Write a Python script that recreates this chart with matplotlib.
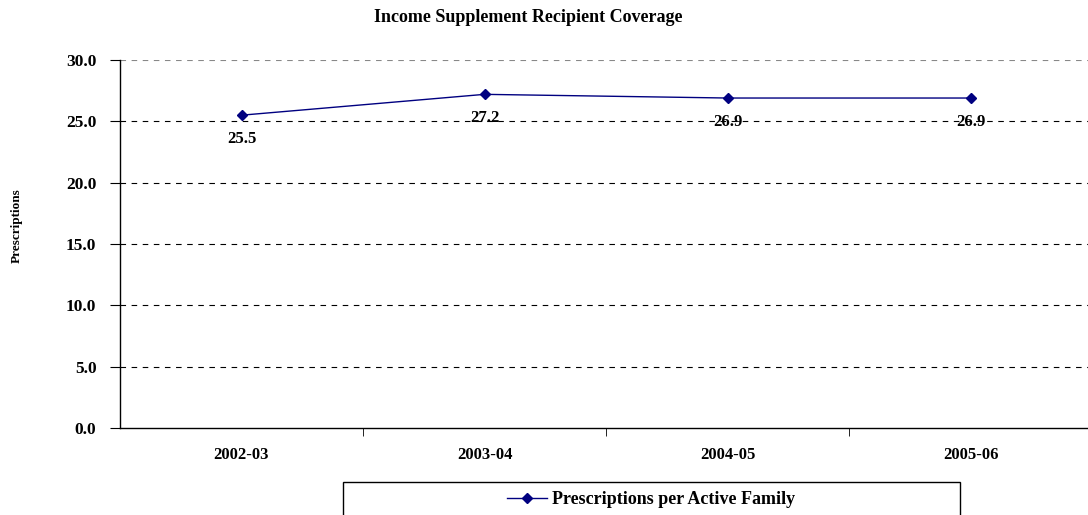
import matplotlib.pyplot as plt
from matplotlib.patches import Rectangle

# dati
years = ['2002-03', '2003-04', '2004-05', '2005-06']
presc_per_family = [25.5, 27.2, 26.9, 26.9]
yticks = [0, 5, 10, 15, 20, 25, 30]

plt.rcParams['font.family'] = ['Liberation Serif', 'DejaVu Serif']
plt.rcParams['font.weight'] = 'bold'

W, H = 1088, 515
fig = plt.figure(figsize=(W / 100, H / 100), dpi=100)
ax = fig.add_axes([120 / W, 1 - 428 / H, 972 / W, 368 / H])

x = list(range(len(years)))
ax.plot(x, presc_per_family, color='#000080', linewidth=1, marker='D',
        markersize=5, label='Prescriptions per Active Family')

for xi, v in zip(x, presc_per_family):
    ax.annotate(f'{v:.1f}', (xi, v), xytext=(0, -17), textcoords='offset points',
                ha='center', va='center', fontsize=12, fontweight='bold')

ax.set_xlim(-0.5, 3.5)
ax.set_ylim(0, 30)
ax.set_yticks(yticks)
ax.set_yticklabels([f'{t:.1f}' for t in yticks], fontsize=12.5, fontweight='bold')
ax.set_xticks(x)
ax.set_xticklabels(years, fontsize=12, fontweight='bold')
ax.set_xticks([0.5, 1.5, 2.5], minor=True)
ax.tick_params(axis='x', which='major', length=0, pad=14)
ax.tick_params(axis='x', which='minor', length=6, direction='out', color='black')
ax.tick_params(axis='y', length=7, direction='out', pad=10)

# griglia tratteggiata
for t in yticks[1:]:
    ax.axhline(t, color='black' if t < 30 else '#888888', linestyle=(0, (5, 5)),
               linewidth=0.8, zorder=0)

ax.spines['top'].set_visible(False)
ax.spines['right'].set_visible(False)
ax.spines['left'].set_linewidth(1)
ax.spines['bottom'].set_linewidth(1)

fig.text(17 / W, 1 - 226 / H, 'Prescriptions', rotation=90, ha='center', va='center',
         fontsize=9.5, fontweight='bold')

fig.text(528 / W, 1 - 18 / H, 'Income Supplement Recipient Coverage',
         ha='center', va='center', fontsize=13, fontweight='bold')

# cornice della legenda (esce dal fondo dell'immagine)
fig.patches.append(Rectangle((343 / W, -0.05), 617 / W, 0.05 + (H - 482) / H,
                             transform=fig.transFigure, fill=False,
                             edgecolor='black', linewidth=1))
fig.legend(loc='center', bbox_to_anchor=(651 / W, 1 - 500 / H), frameon=False,
           prop={'size': 13, 'weight': 'bold'}, handlelength=2.2, handletextpad=0.3)

plt.savefig('out.png', dpi=100)
